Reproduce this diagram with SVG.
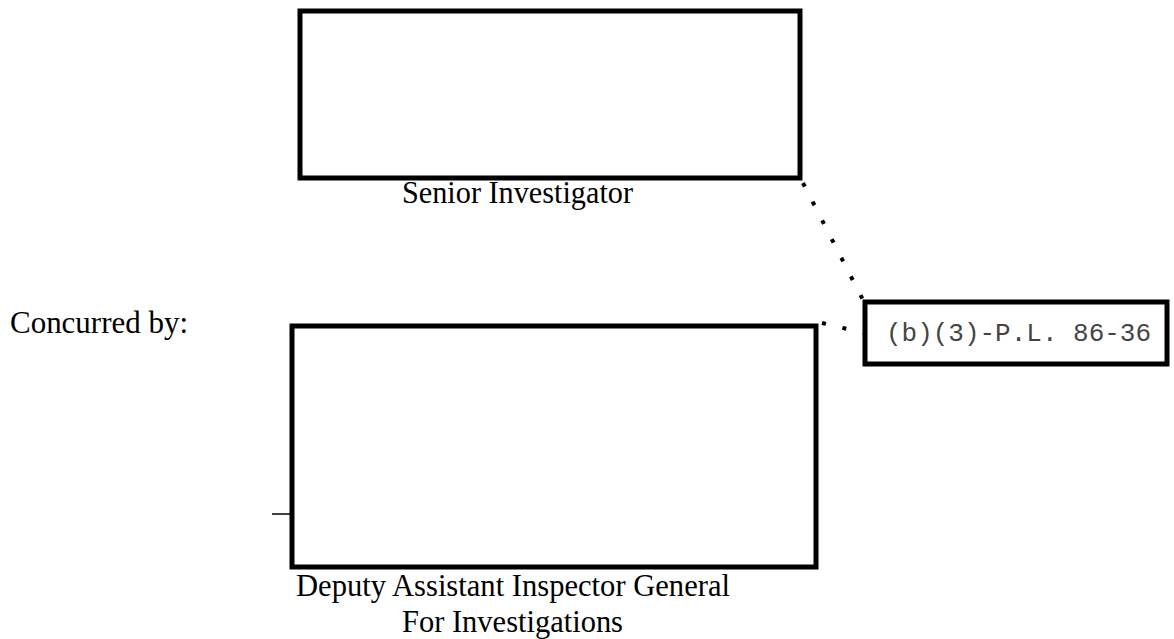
<svg xmlns="http://www.w3.org/2000/svg" width="1174" height="639" viewBox="0 0 1174 639">
<style>
.box{fill:#fff;stroke:#000;stroke-width:5}
.t{font-family:"Liberation Serif",serif;font-size:30.5px;fill:#000}
.m{font-family:"Liberation Mono",monospace;font-size:26px;fill:#444}
.dot{fill:none;stroke:#000;stroke-width:4;stroke-dasharray:4 17}
</style>
<rect width="1174" height="639" fill="#fff"/>
<g id="connectors">
<line class="dot" x1="803" y1="183" x2="863" y2="300"/>
<line class="dot" x1="822" y1="323" x2="864" y2="333"/>
<line x1="272" y1="514" x2="291" y2="514" stroke="#000" stroke-width="1.5"/>
</g>
<g id="senior">
<rect class="box" x="300" y="11" width="500" height="167"/>
<text class="t" x="402" y="203" textLength="231" lengthAdjust="spacingAndGlyphs">Senior Investigator</text>
</g>
<g id="concurred">
<text class="t" x="10" y="333" textLength="178" lengthAdjust="spacingAndGlyphs">Concurred by:</text>
</g>
<g id="deputy">
<rect class="box" x="292" y="326" width="524" height="241"/>
<text class="t" x="296" y="596" textLength="434" lengthAdjust="spacingAndGlyphs">Deputy Assistant Inspector General</text>
<text class="t" x="402" y="632" textLength="221" lengthAdjust="spacingAndGlyphs">For Investigations</text>
</g>
<g id="redaction">
<rect class="box" x="865" y="302" width="302" height="62"/>
<text class="m" x="886" y="341" textLength="265" lengthAdjust="spacingAndGlyphs">(b)(3)-P.L. 86-36</text>
</g>
</svg>
